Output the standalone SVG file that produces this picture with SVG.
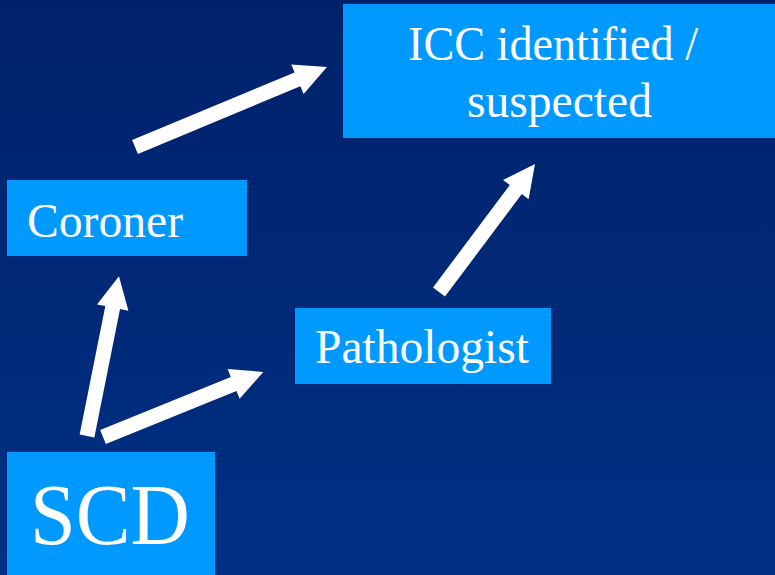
<svg xmlns="http://www.w3.org/2000/svg" width="775" height="575" viewBox="0 0 775 575">
  <defs>
    <linearGradient id="bg" x1="0" y1="0" x2="0" y2="1">
      <stop offset="0" stop-color="#00226a"/>
      <stop offset="1" stop-color="#003084"/>
    </linearGradient>
    <style>
      .box { fill: #0099ff; }
      .label { fill: #ffffff; font-family: "Liberation Serif", "Times New Roman", serif; font-size: 48px; }
      .big { font-size: 86px; }
      .arrow { fill: #ffffff; }
    </style>
  </defs>

  <rect width="775" height="575" fill="url(#bg)"/>

  <g id="node-icc">
    <rect class="box" x="343" y="4" width="432" height="134"/>
    <text class="label" x="408" y="60" textLength="290" lengthAdjust="spacingAndGlyphs">ICC identified /</text>
    <text class="label" x="467" y="117" textLength="185" lengthAdjust="spacingAndGlyphs">suspected</text>
  </g>

  <g id="node-coroner">
    <rect class="box" x="7" y="180" width="240" height="76"/>
    <text class="label" x="27" y="237" textLength="156" lengthAdjust="spacingAndGlyphs">Coroner</text>
  </g>

  <g id="node-pathologist">
    <rect class="box" x="295" y="308" width="256" height="76"/>
    <text class="label" x="315" y="363" textLength="214" lengthAdjust="spacingAndGlyphs">Pathologist</text>
  </g>

  <g id="node-scd">
    <rect class="box" x="7" y="452" width="208" height="123"/>
    <text class="label big" x="30" y="544" textLength="160" lengthAdjust="spacingAndGlyphs">SCD</text>
  </g>

  <!-- block arrows: each drawn along +x from its tail, then rotated into place -->
  <g id="connectors" class="arrow">
    <!-- Coroner -> ICC -->
    <path transform="translate(135,147) rotate(-22.62)" d="M0,-7.5 H176 V-16 L208,0 L176,16 V7.5 H0 Z"/>
    <!-- SCD -> Coroner -->
    <path transform="translate(87,436) rotate(-78.69)" d="M0,-7.5 H131 V-16 L163,0 L131,16 V7.5 H0 Z"/>
    <!-- SCD -> Pathologist -->
    <path transform="translate(103,437) rotate(-22.11)" d="M0,-7.5 H141 V-16 L173,0 L141,16 V7.5 H0 Z"/>
    <!-- Pathologist -> ICC -->
    <path transform="translate(439,292) rotate(-53.13)" d="M0,-7.5 H128 V-16 L160,0 L128,16 V7.5 H0 Z"/>
  </g>
</svg>
